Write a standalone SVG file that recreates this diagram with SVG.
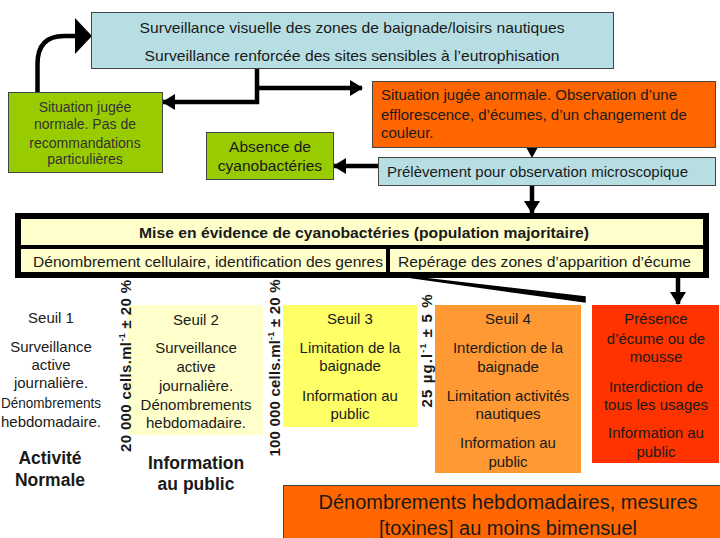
<svg xmlns="http://www.w3.org/2000/svg" width="720" height="538" viewBox="0 0 720 538">
<style>
text{font-family:"Liberation Sans",Arial,sans-serif;fill:#1a1a1a}
.c{text-anchor:middle}
.bx{stroke:#444;stroke-width:1}
.blue{fill:#b7dee3}
.green{fill:#99cc00}
.conn{fill:none;stroke:#000;stroke-width:4.5}
.b{font-weight:bold}
.f14{font-size:14px}
.f15{font-size:15px}
</style>
<defs>
<marker id="ah" markerUnits="userSpaceOnUse" markerWidth="14" markerHeight="16" refX="12" refY="8" orient="auto">
<path d="M0,0 L13,8 L0,16 Z" fill="#000"/>
</marker>
</defs>
<rect width="720" height="538" fill="#fff"/>

<g id="connectors">
<path class="conn" d="M37.5,92 V64 Q37.5,36 64,36 H76" stroke-width="9"/>
<polygon points="75,18 92,36 75,54" fill="#000"/>
<path class="conn" d="M257,68 V102 H163" marker-end="url(#ah)"/>
<path class="conn" d="M257,88 H362" marker-end="url(#ah)"/>
<polygon points="526,147 538,147 532,158" fill="#000"/>
<path class="conn" d="M378,166 H334" marker-end="url(#ah)"/>
<path class="conn" d="M532,185 V213" marker-end="url(#ah)"/>
<path class="conn" d="M678,277 V304" marker-end="url(#ah)"/>
<path d="M386,274 L585,297 L585,302 Z" fill="#000" stroke="#000" stroke-width="1.5"/>
</g>

<g id="top">
<rect class="bx blue" x="91.5" y="12.5" width="522" height="56"/>
<text class="c f15" x="352" y="33" textLength="425" lengthAdjust="spacingAndGlyphs">Surveillance visuelle des zones de baignade/loisirs nautiques</text>
<text class="c f15" x="352" y="61" textLength="415" lengthAdjust="spacingAndGlyphs">Surveillance renforcée des sites sensibles à l’eutrophisation</text>
</g>

<g id="normale">
<rect class="bx green" x="8.5" y="92.5" width="154" height="80"/>
<text class="c f14" x="85" y="112" style="fill:#333">Situation jugée</text>
<text class="c f14" x="85" y="129" style="fill:#333">normale. Pas de</text>
<text class="c f14" x="85" y="148" style="fill:#333">recommandations</text>
<text class="c f14" x="85" y="164" style="fill:#333">particulières</text>
</g>

<g id="anormale">
<rect class="bx" x="372.5" y="81.5" width="343" height="66" fill="#ff6600"/>
<text class="f15" x="381" y="100">Situation jugée anormale. Observation d’une</text>
<text class="f15" x="381" y="120">efflorescence, d’écumes, d’un changement de</text>
<text class="f15" x="381" y="138">couleur.</text>
</g>

<g id="absence">
<rect class="bx green" x="206.5" y="132.5" width="127" height="47"/>
<text class="c" x="270" y="152" font-size="15.5">Absence de</text>
<text class="c" x="270" y="171" font-size="15.5">cyanobactéries</text>
</g>

<g id="prelevement">
<rect class="bx blue" x="378.5" y="157.5" width="337" height="28"/>
<text class="f15" x="387" y="177">Prélèvement pour observation microscopique</text>
</g>

<g id="mise">
<rect x="15" y="213" width="694" height="65" fill="#000"/>
<rect x="21" y="219" width="682" height="26" fill="#ffffcc"/>
<rect x="21" y="249" width="365" height="23" fill="#ffffcc"/>
<rect x="390" y="249" width="313" height="23" fill="#ffffcc"/>
<text class="c b" x="364" y="238" font-size="15" textLength="450" lengthAdjust="spacingAndGlyphs">Mise en évidence de cyanobactéries (population majoritaire)</text>
<text x="33" y="267" font-size="15" textLength="350" lengthAdjust="spacingAndGlyphs">Dénombrement cellulaire, identification des genres</text>
<text x="398" y="267" font-size="15" textLength="293" lengthAdjust="spacingAndGlyphs">Repérage des zones d’apparition d’écume</text>
</g>

<g id="seuil1">
<text class="c f15" x="51" y="323">Seuil 1</text>
<text class="c f15" x="51" y="352">Surveillance</text>
<text class="c f15" x="51" y="370">active</text>
<text class="c f15" x="51" y="388">journalière.</text>
<text class="c f15" x="51" y="408" textLength="100" lengthAdjust="spacingAndGlyphs">Dénombrements</text>
<text class="c f15" x="51" y="427">hebdomadaire.</text>
<text class="c b" x="50" y="464" font-size="17.5">Activité</text>
<text class="c b" x="50" y="486" font-size="17.5">Normale</text>
</g>

<g id="seuil2">
<rect x="128" y="305" width="135" height="130" fill="#ffffcc"/>
<text class="c f15" x="196" y="325">Seuil 2</text>
<text class="c f15" x="196" y="353">Surveillance</text>
<text class="c f15" x="196" y="372">active</text>
<text class="c f15" x="196" y="391">journalière.</text>
<text class="c f15" x="196" y="410">Dénombrements</text>
<text class="c f15" x="196" y="428">hebdomadaire.</text>
<text class="c b" x="196" y="469" font-size="17.5">Information</text>
<text class="c b" x="196" y="490" font-size="17.5">au public</text>
</g>

<g id="seuil3">
<rect x="283" y="305" width="134" height="122" fill="#ffff66"/>
<text class="c f15" x="350" y="324">Seuil 3</text>
<text class="c f15" x="350" y="353">Limitation de la</text>
<text class="c f15" x="350" y="371">baignade</text>
<text class="c f15" x="350" y="401">Information au</text>
<text class="c f15" x="350" y="419">public</text>
</g>

<g id="seuil4">
<rect x="435" y="305" width="146" height="168" fill="#ff9933"/>
<text class="c f15" x="508" y="324">Seuil 4</text>
<text class="c f15" x="508" y="353">Interdiction de la</text>
<text class="c f15" x="508" y="372">baignade</text>
<text class="c f15" x="508" y="401">Limitation activités</text>
<text class="c f15" x="508" y="419">nautiques</text>
<text class="c f15" x="508" y="448">Information au</text>
<text class="c f15" x="508" y="467">public</text>
</g>

<g id="presence">
<rect x="592" y="305" width="127" height="158" fill="#ff3300"/>
<text class="c f15" x="656" y="324">Présence</text>
<text class="c f15" x="656" y="344">d’écume ou de</text>
<text class="c f15" x="656" y="362">mousse</text>
<text class="c f15" x="656" y="392">Interdiction de</text>
<text class="c f15" x="656" y="410">tous les usages</text>
<text class="c f15" x="656" y="438">Information au</text>
<text class="c f15" x="656" y="457">public</text>
</g>

<g id="limits">
<text class="c b" font-size="15" transform="translate(131,366) rotate(-90)" textLength="172" lengthAdjust="spacing">20 000 cells.ml<tspan font-size="9" dy="-6">-1</tspan><tspan dy="6"> ± 20 %</tspan></text>
<text class="c b" font-size="15" transform="translate(280,368) rotate(-90)" textLength="177" lengthAdjust="spacing">100 000 cells.ml<tspan font-size="9" dy="-6">-1</tspan><tspan dy="6"> ± 20 %</tspan></text>
<text class="c b" font-size="15" transform="translate(432,351) rotate(-90)" textLength="113" lengthAdjust="spacing">25 µg.l<tspan font-size="9" dy="-6">-1</tspan><tspan dy="6"> ± 5 %</tspan></text>
</g>

<g id="bottom">
<rect class="bx" x="283.5" y="485.5" width="440" height="60" fill="#ff6600" stroke="#888"/>
<text class="c" x="508" y="509" font-size="20">Dénombrements hebdomadaires, mesures</text>
<text class="c" x="508" y="535" font-size="20">[toxines] au moins bimensuel</text>
</g>
</svg>
